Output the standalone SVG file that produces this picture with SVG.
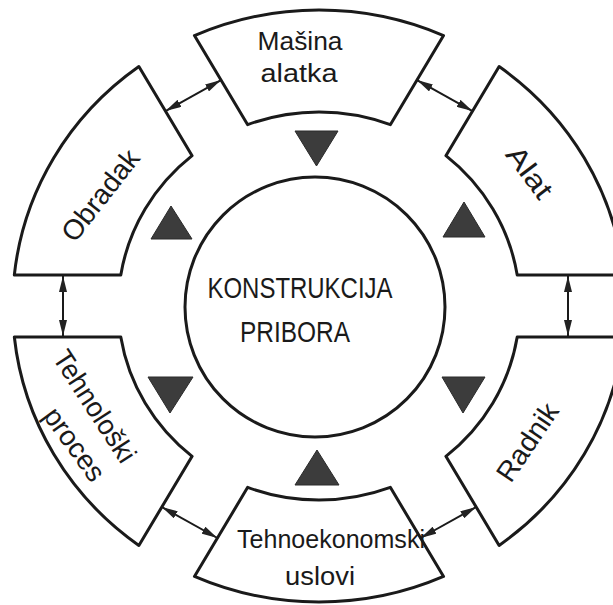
<svg xmlns="http://www.w3.org/2000/svg" width="613" height="605" viewBox="0 0 613 605">
<style>
.sec{fill:#fff;stroke:#1a1a1a;stroke-width:3;stroke-linejoin:round}
.tri{fill:#3c3c3c;stroke:#2a2a2a;stroke-width:1}
.con{stroke:#1a1a1a;stroke-width:2;fill:none;marker-start:url(#ah);marker-end:url(#ah)}
text{font-family:"Liberation Sans",Arial,sans-serif;fill:#1a1a1a;text-anchor:middle}
.lb{font-size:25px}
.rl{font-size:28px}
.ct{font-size:29px}
</style>
<defs>
<marker id="ah" viewBox="0 0 16 8" refX="16" refY="4" markerWidth="16" markerHeight="8" markerUnits="userSpaceOnUse" orient="auto-start-reverse">
<path d="M0,0 L16,4 L0,8 Z" fill="#222"/>
</marker>
</defs>
<rect width="613" height="605" fill="#fff"/>
<g id="connectors">
<line class="con" x1="165.5" y1="111.1" x2="221" y2="80.1"/>
<line class="con" x1="417" y1="80.1" x2="472.5" y2="111.1"/>
<line class="con" x1="568" y1="276" x2="568" y2="336"/>
<line class="con" x1="63" y1="276" x2="63" y2="336"/>
<line class="con" x1="161.8" y1="507" x2="217.4" y2="538"/>
<line class="con" x1="476.2" y1="507" x2="420.6" y2="538"/>
</g>
<g id="masina">
<path class="sec" d="M 194.45 35.57 A 306.36 296 0 0 1 443.55 35.57 L 390.32 124.65 A 200.79 194 0 0 0 247.68 124.65 Z"/>
<text class="lb" x="300" y="50" textLength="85" lengthAdjust="spacingAndGlyphs">Mašina</text>
<text class="lb" x="299" y="82" textLength="77" lengthAdjust="spacingAndGlyphs">alatka</text>
</g>
<g id="alat">
<path class="sec" d="M 499.13 66.57 A 306.36 296 0 0 1 623.67 275 L 517.21 275 A 200.79 194 0 0 0 445.9 155.65 Z"/>
<text class="rl" transform="translate(530,172) rotate(53)" x="0" y="10" textLength="58" lengthAdjust="spacingAndGlyphs">Alat</text>
</g>
<g id="radnik">
<path class="sec" d="M 623.67 337 A 306.36 296 0 0 1 499.13 545.43 L 445.9 456.35 A 200.79 194 0 0 0 517.21 337 Z"/>
<text class="rl" transform="translate(527,442) rotate(-56)" x="0" y="10" textLength="88" lengthAdjust="spacingAndGlyphs">Radnik</text>
</g>
<g id="tehnoekonomski">
<path class="sec" d="M 443.55 576.43 A 306.36 296 0 0 1 194.45 576.43 L 247.68 487.35 A 200.79 194 0 0 0 390.32 487.35 Z"/>
<text class="lb" x="331" y="548" textLength="188" lengthAdjust="spacingAndGlyphs">Tehnoekonomski</text>
<text class="lb" x="320" y="585" textLength="70" lengthAdjust="spacingAndGlyphs">uslovi</text>
</g>
<g id="tehnoloski">
<path class="sec" d="M 138.87 545.43 A 306.36 296 0 0 1 14.33 337 L 120.79 337 A 200.79 194 0 0 0 192.1 456.35 Z"/>
<text class="rl" transform="translate(95,406) rotate(57)" x="0" y="10" textLength="128" lengthAdjust="spacingAndGlyphs">Tehnološki</text>
<text class="rl" transform="translate(75,444) rotate(54)" x="0" y="10" textLength="84" lengthAdjust="spacingAndGlyphs">proces</text>
</g>
<g id="obradak">
<path class="sec" d="M 14.33 275 A 306.36 296 0 0 1 138.87 66.57 L 192.1 155.65 A 200.79 194 0 0 0 120.79 275 Z"/>
<text class="rl" transform="translate(100,195) rotate(-52)" x="0" y="10" textLength="108" lengthAdjust="spacingAndGlyphs">Obradak</text>
</g>
<g id="center">
<circle cx="315" cy="307" r="130" fill="#fff" stroke="#1a1a1a" stroke-width="3"/>
<text class="ct" x="300" y="298" textLength="185" lengthAdjust="spacingAndGlyphs">KONSTRUKCIJA</text>
<text class="ct" x="295" y="342" textLength="110" lengthAdjust="spacingAndGlyphs">PRIBORA</text>
</g>
<g id="triangles">
<polygon class="tri" points="295,131 338,131 316.5,166"/>
<polygon class="tri" points="171,206 151,239 192,239"/>
<polygon class="tri" points="464,202 443,237 485,237"/>
<polygon class="tri" points="148,377 193,377 170,413"/>
<polygon class="tri" points="442,377 485,377 463,413"/>
<polygon class="tri" points="317,450 295,485 339,485"/>
</g>
</svg>
